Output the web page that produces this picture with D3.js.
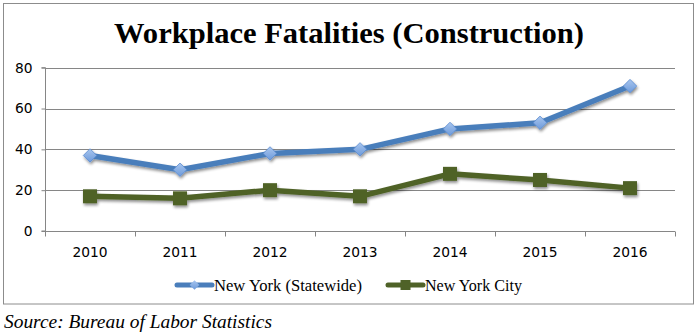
<!DOCTYPE html>
<html>
<head>
<meta charset="utf-8">
<script src="https://cdn.jsdelivr.net/npm/d3@7"></script>
<style>
  html, body { margin: 0; padding: 0; background: #fff; }
  svg { display: block; }
</style>
</head>
<body>
<svg id="chart" width="698" height="336"></svg>
<script>
// Construction fatalities by year
const years = ["2010", "2011", "2012", "2013", "2014", "2015", "2016"];
const statewide = [37, 30, 38, 40, 50, 53, 71];
const nyc = [17, 16, 20, 17, 28, 25, 21];
const yTicks = [0, 20, 40, 60, 80];
const seriesNames = ["New York (Statewide)", "New York City"];

const svg = d3.select("#chart");
const plot = { left: 45, right: 675, top: 67.7, bottom: 231 };

const defs = svg.append("defs");
const shadow = defs.append("filter").attr("id", "shadow")
  .attr("x", "-30%").attr("y", "-30%").attr("width", "160%").attr("height", "160%");
shadow.append("feGaussianBlur").attr("in", "SourceAlpha").attr("stdDeviation", 1.6).attr("result", "b");
shadow.append("feOffset").attr("in", "b").attr("dx", 1).attr("dy", 2).attr("result", "o");
shadow.append("feComponentTransfer").attr("in", "o").attr("result", "s")
  .append("feFuncA").attr("type", "linear").attr("slope", 0.45);
const merge = shadow.append("feMerge");
merge.append("feMergeNode").attr("in", "s");
merge.append("feMergeNode").attr("in", "SourceGraphic");

const diamondGrad = defs.append("linearGradient").attr("id", "diamondFill")
  .attr("x1", 0).attr("y1", 0).attr("x2", 0).attr("y2", 1);
diamondGrad.append("stop").attr("offset", "0%").attr("stop-color", "#a9c6ef");
diamondGrad.append("stop").attr("offset", "100%").attr("stop-color", "#6c9ada");

// Outer frame
svg.append("rect")
  .attr("x", 3.5).attr("y", 3.5).attr("width", 690).attr("height", 300.5)
  .attr("fill", "#fff").attr("stroke", "#8c8c8c").attr("stroke-width", 1);

// Title
svg.append("text")
  .attr("x", 349).attr("y", 43)
  .attr("text-anchor", "middle")
  .attr("font-family", "'Liberation Serif', 'DejaVu Serif', serif")
  .attr("font-weight", "bold")
  .attr("font-size", 29)
  .attr("textLength", 470).attr("lengthAdjust", "spacingAndGlyphs")
  .attr("fill", "#000")
  .text("Workplace Fatalities (Construction)");

const x = d3.scaleBand().domain(years).range([plot.left, plot.right]);
const y = d3.scaleLinear().domain([0, 80]).range([plot.bottom, plot.top]);

// Gridlines
svg.append("g")
  .selectAll("line").data(yTicks.filter(d => d > 0)).join("line")
  .attr("x1", plot.left).attr("x2", plot.right)
  .attr("y1", d => Math.round(y(d)) + 0.5).attr("y2", d => Math.round(y(d)) + 0.5)
  .attr("stroke", "#868686").attr("stroke-width", 1);

// Y axis
const yAxis = svg.append("g")
  .attr("transform", `translate(${plot.left + 0.5},0)`)
  .call(d3.axisLeft(y).tickValues(yTicks).tickSize(4).tickPadding(9).tickFormat(d3.format("d")));
yAxis.selectAll("path, line").attr("stroke", "#868686");
yAxis.selectAll("text")
  .attr("font-family", "'DejaVu Sans', Verdana, sans-serif")
  .attr("font-size", 13.8).attr("fill", "#000");
yAxis.select(".domain").attr("d", `M-4,${y(0)}H0V${y(80)}H-4`);

// X axis with ticks on category boundaries
const xAxisG = svg.append("g")
  .attr("transform", `translate(0,${Math.round(y(0)) + 0.5})`);
xAxisG.append("line")
  .attr("x1", plot.left).attr("x2", plot.right)
  .attr("stroke", "#868686");
const bounds = years.map(d => x(d)).concat([x(years[years.length - 1]) + x.bandwidth()]);
xAxisG.selectAll("line.tick").data(bounds).join("line")
  .attr("class", "tick")
  .attr("x1", d => Math.round(d) + 0.5).attr("x2", d => Math.round(d) + 0.5)
  .attr("y1", 0).attr("y2", 5)
  .attr("stroke", "#868686");
xAxisG.selectAll("text").data(years).join("text")
  .attr("x", d => x(d) + x.bandwidth() / 2)
  .attr("y", 25)
  .attr("text-anchor", "middle")
  .attr("font-family", "'DejaVu Sans', Verdana, sans-serif")
  .attr("font-size", 13.8).attr("fill", "#000")
  .text(d => d);

const cx = d => x(d) + x.bandwidth() / 2;
const line = d3.line().x(d => cx(d.year)).y(d => y(d.v));

function drawSeries(values, color, marker) {
  const pts = years.map((yr, i) => ({ year: yr, v: values[i] }));
  const g = svg.append("g").attr("filter", "url(#shadow)");
  g.append("path").datum(pts)
    .attr("d", line)
    .attr("fill", "none").attr("stroke", color)
    .attr("stroke-width", 5.5).attr("stroke-linejoin", "round").attr("stroke-linecap", "round");
  if (marker === "diamond") {
    g.selectAll("path.mk").data(pts).join("path")
      .attr("class", "mk")
      .attr("d", d3.symbol().type(d3.symbolDiamond2).size(115))
      .attr("transform", d => `translate(${cx(d.year)},${y(d.v)})`)
      .attr("fill", "url(#diamondFill)").attr("stroke", "#5b8bd0").attr("stroke-width", 0.8);
  } else {
    g.selectAll("rect.mk").data(pts).join("rect")
      .attr("class", "mk")
      .attr("x", d => cx(d.year) - 7).attr("y", d => y(d.v) - 7)
      .attr("width", 14).attr("height", 14)
      .attr("fill", color);
  }
}

drawSeries(statewide, "#4a7ebb", "diamond");
drawSeries(nyc, "#4f6228", "square");

// Legend
const legend = svg.append("g");
const legendItems = [
  { name: seriesNames[0], color: "#4a7ebb", marker: "diamond", x0: 177, len: 148 },
  { name: seriesNames[1], color: "#4f6228", marker: "square", x0: 388, len: 97 }
];
const ly = 285;
legendItems.forEach(it => {
  legend.append("line")
    .attr("x1", it.x0).attr("x2", it.x0 + 35).attr("y1", ly).attr("y2", ly)
    .attr("stroke", it.color).attr("stroke-width", 5).attr("stroke-linecap", "round");
  if (it.marker === "diamond") {
    legend.append("path")
      .attr("d", d3.symbol().type(d3.symbolDiamond2).size(60))
      .attr("transform", `translate(${it.x0 + 17.5},${ly})`)
      .attr("fill", "url(#diamondFill)");
  } else {
    legend.append("rect")
      .attr("x", it.x0 + 12.5).attr("y", ly - 5).attr("width", 10).attr("height", 10)
      .attr("fill", it.color);
  }
  legend.append("text")
    .attr("x", it.x0 + 37).attr("y", ly + 5.5)
    .attr("font-family", "'Liberation Serif', 'DejaVu Serif', serif")
    .attr("font-size", 16.5).attr("fill", "#000")
    .attr("textLength", it.len).attr("lengthAdjust", "spacingAndGlyphs")
    .text(it.name);
});

// Source note
svg.append("text")
  .attr("x", 4).attr("y", 328)
  .attr("font-family", "'Liberation Serif', 'DejaVu Serif', serif")
  .attr("font-style", "italic")
  .attr("font-size", 19).attr("fill", "#000")
  .attr("textLength", 268).attr("lengthAdjust", "spacingAndGlyphs")
  .text("Source: Bureau of Labor Statistics");
</script>
</body>
</html>
